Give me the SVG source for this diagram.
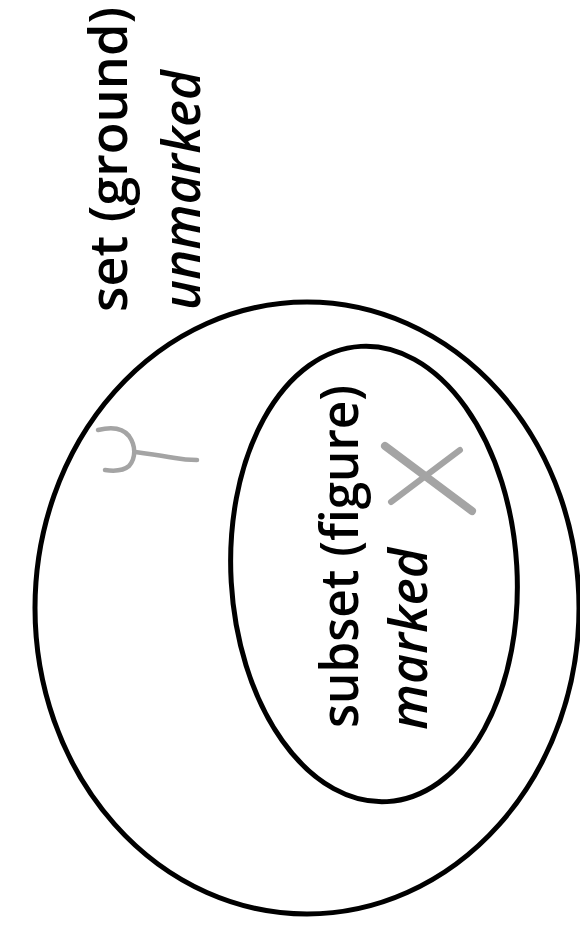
<svg xmlns="http://www.w3.org/2000/svg" width="580" height="935" viewBox="0 0 580 935">
  <style>
    .ring { fill: none; stroke: #000; stroke-width: 5; }
    .lbl { font-family: "Open Sans", "Noto Sans", "DejaVu Sans", sans-serif; font-size: 52px; font-weight: 600; fill: #000; }
    .it { font-style: italic; }
    .mark { fill: none; stroke: #a4a4a4; stroke-linecap: round; stroke-linejoin: round; }
  </style>
  <rect width="580" height="935" fill="#fff"/>
  <g id="set">
    <ellipse class="ring" cx="307" cy="608" rx="272" ry="306"/>
    <text class="lbl" transform="translate(127,312) rotate(-90)" textLength="305" lengthAdjust="spacingAndGlyphs">set (ground)</text>
    <text class="lbl it" transform="translate(200,310) rotate(-90)" textLength="240" lengthAdjust="spacingAndGlyphs">unmarked</text>
  </g>
  <g id="subset">
    <ellipse class="ring" cx="374" cy="574" rx="143" ry="228" transform="rotate(-3.3 374 574)"/>
    <text class="lbl" transform="translate(358,728) rotate(-90)" textLength="343" lengthAdjust="spacingAndGlyphs">subset (figure)</text>
    <text class="lbl it" transform="translate(427,730) rotate(-90)" textLength="182" lengthAdjust="spacingAndGlyphs">marked</text>
  </g>
  <g id="marks">
    <path class="mark" stroke-width="4.5" d="M98,430 C110,427 122,427 129,436 C136,446 136,458 129,466 C122,472 112,471 105,470"/>
    <path class="mark" stroke-width="4.5" d="M135,452 C150,454 160,455 175,458 C185,460 192,460 197,460"/>
    <path class="mark" stroke-width="8" d="M385,446 L472,511"/>
    <path class="mark" stroke-width="6" d="M460,450 L391,502"/>
  </g>
</svg>
